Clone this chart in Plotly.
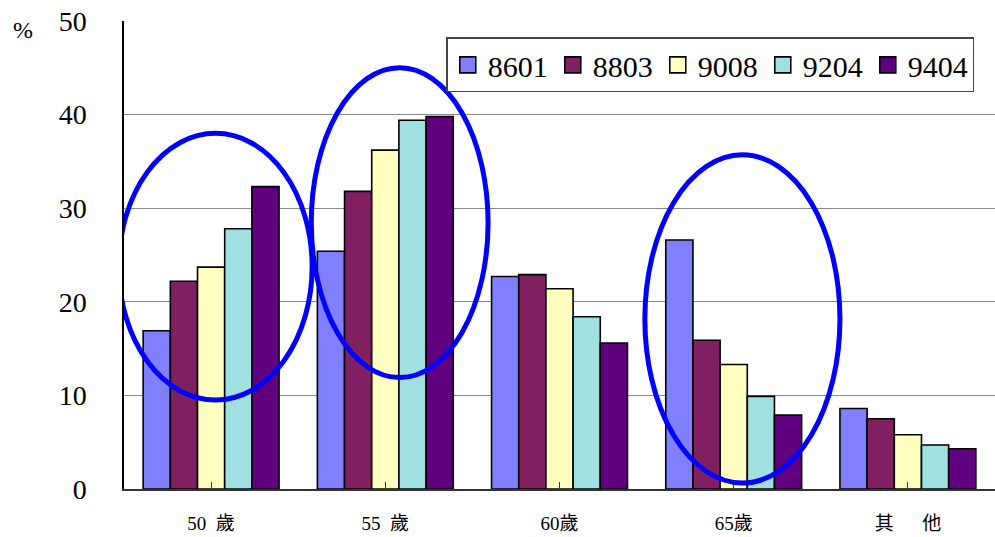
import plotly.graph_objects as go

categories = ["50\u2002歲", "55\u2002歲", "60歲", "65歲", "其\u3000\u2002他"]
series_names = ["8601", "8803", "9008", "9204", "9404"]
values = {
    "8601": [16.9, 25.4, 22.7, 26.6, 8.6],
    "8803": [22.2, 31.8, 22.9, 15.9, 7.5],
    "9008": [23.7, 36.2, 21.4, 13.3, 5.8],
    "9204": [27.8, 39.4, 18.4, 9.9, 4.7],
    "9404": [32.3, 39.8, 15.6, 7.9, 4.3],
}
colors = ["#8080FF", "#802060", "#FFFFC0", "#A0E0E0", "#600080"]
y_ticks = [0, 10, 20, 30, 40, 50]

SERIF = "Times New Roman, Liberation Serif, DejaVu Serif, serif"

fig = go.Figure()
for name, col in zip(series_names, colors):
    fig.add_trace(go.Bar(
        x=list(range(len(categories))), y=values[name], name=name, showlegend=False,
        marker=dict(color=col, line=dict(color="black", width=1.6)),
    ))
# legend entries with larger square swatches
for name, col in zip(series_names, colors):
    fig.add_trace(go.Scatter(
        x=[None], y=[None], mode="markers", name=name,
        marker=dict(symbol="square", size=16, color=col, line=dict(color="black", width=1.6)),
    ))

# highlight ellipses
ellipses = [(-0.53, 9.5, 0.58, 38.0), (0.575, 11.9, 1.59, 45.0), (2.49, 0.64, 3.61, 35.7)]
for x0, y0, x1, y1 in ellipses:
    fig.add_shape(type="circle", xref="x", yref="y", x0=x0, y0=y0, x1=x1, y1=y1,
                  line=dict(color="#0000FF", width=5), layer="above")

fig.add_annotation(text="%", xref="paper", yref="paper", x=-0.13, y=0.981,
                   xanchor="left", yanchor="middle", showarrow=False,
                   font=dict(family=SERIF, size=24, color="black"))

fig.update_layout(
    width=995, height=537, autosize=False,
    margin=dict(l=124, r=0, t=21, b=48, autoexpand=False),
    paper_bgcolor="white", plot_bgcolor="white",
    barmode="group", bargap=0.22, bargroupgap=0,
    font=dict(family=SERIF, color="black"),
    legend=dict(orientation="h", x=0.37, y=0.965, xanchor="left", yanchor="top",
                bgcolor="white", bordercolor="#444", borderwidth=1.5,
                font=dict(family=SERIF, size=30), itemwidth=30, itemsizing="trace",
                tracegroupgap=0),
    xaxis=dict(tickmode="array", tickvals=list(range(len(categories))), ticktext=categories,
               range=[-0.5, 4.5], showline=True, linecolor="#333", linewidth=2,
               ticks="inside", ticklen=7, tickcolor="#333", automargin=False,
               tickfont=dict(family="Times New Roman, Liberation Serif, Noto Sans CJK TC", size=19),
               ticklabelstandoff=16, showgrid=False),
    yaxis=dict(range=[0, 50], tickvals=y_ticks, showline=True, linecolor="black", linewidth=1.5,
               gridcolor="#888", gridwidth=1, ticks="", automargin=False,
               tickfont=dict(family=SERIF, size=28),
               ticklabelstandoff=30, zeroline=False),
)
fig.write_html("out.html", post_script="document.body.style.margin='0px';",
               config={"displayModeBar": False})
